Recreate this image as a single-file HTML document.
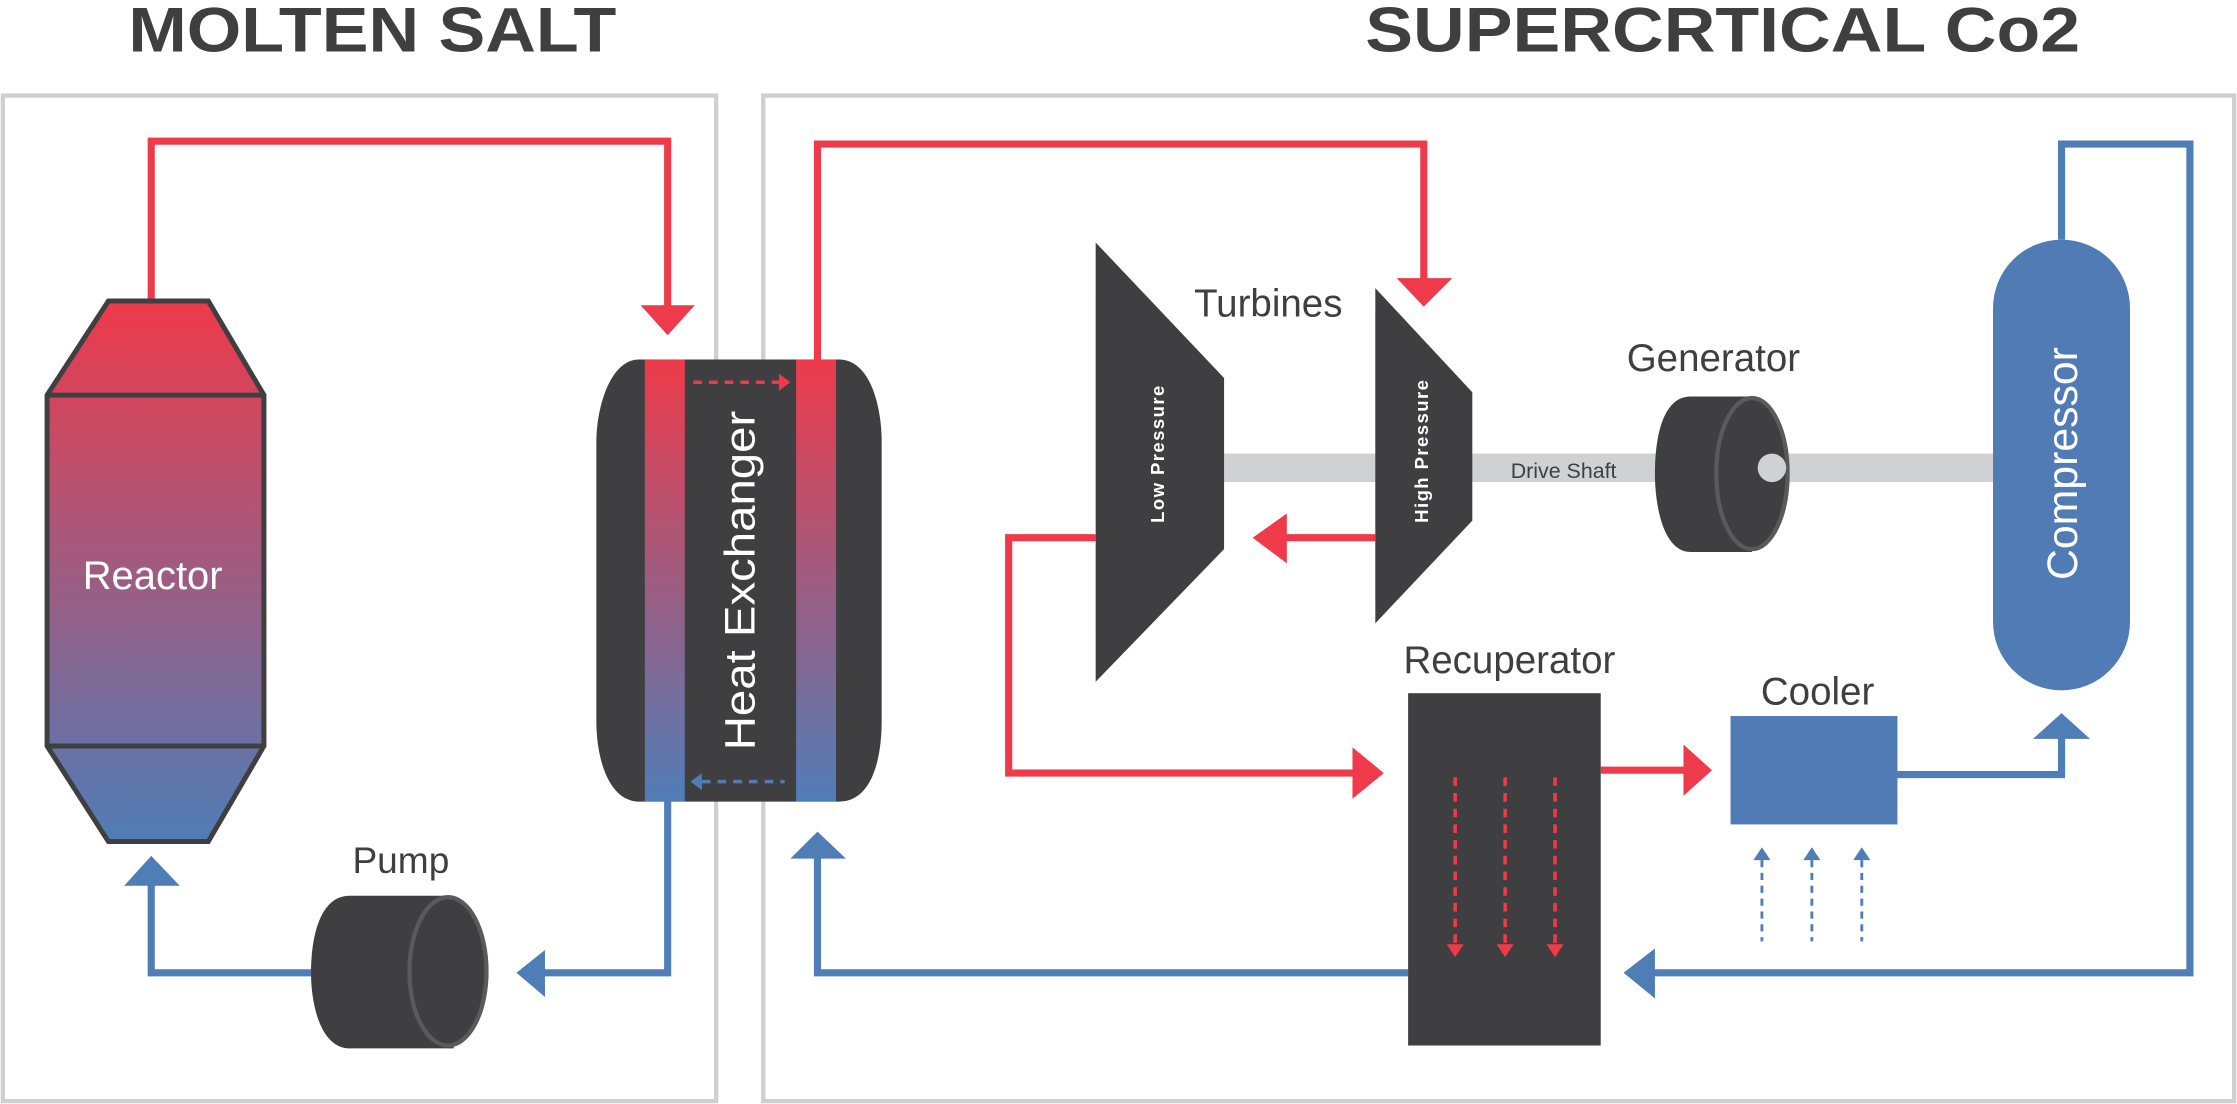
<!DOCTYPE html>
<html><head><meta charset="utf-8"><style>
html,body{margin:0;padding:0;background:#fff;}
svg{display:block;}
text{font-family:"Liberation Sans",sans-serif;}
</style></head><body>
<svg width="2237" height="1104" viewBox="0 0 1568 774" preserveAspectRatio="none">
<defs>
<linearGradient id="rg" x1="0" y1="0" x2="0" y2="1">
<stop offset="0" stop-color="#ee3a4a"/><stop offset="1" stop-color="#4f7db6"/></linearGradient>
<linearGradient id="hg" x1="0" y1="0" x2="0" y2="1">
<stop offset="0" stop-color="#ee3a4a"/><stop offset="1" stop-color="#4f7db6"/></linearGradient>
</defs>
<g>
<text x="90" y="36" font-size="44" font-weight="bold" fill="#3f3f41" textLength="342" lengthAdjust="spacingAndGlyphs">MOLTEN SALT</text>
<text x="957" y="36" font-size="44" font-weight="bold" fill="#3f3f41" textLength="501" lengthAdjust="spacingAndGlyphs">SUPERCRTICAL Co2</text>
</g>
<rect x="2" y="67" width="500" height="705" fill="none" stroke="#cfcfcf" stroke-width="3"/>
<rect x="535" y="67" width="1031" height="705" fill="none" stroke="#cfcfcf" stroke-width="3"/>

<g fill="none" stroke-width="5" stroke-linejoin="miter">
<polyline points="106,211 106,99 468,99 468,215" stroke="#ee3a4a"/>
<polyline points="468,562 468,682 380,682" stroke="#4f7db6"/>
<polyline points="218,682 106,682 106,618" stroke="#4f7db6"/>
<polyline points="573,252 573,101 998,101 998,197" stroke="#ee3a4a"/>
<polyline points="964,377 900,377" stroke="#ee3a4a"/>
<polyline points="768,377 707,377 707,542 950,542" stroke="#ee3a4a"/>
<polyline points="1122,540 1182,540" stroke="#ee3a4a"/>
<polyline points="1330,543 1445,543 1445,516" stroke="#4f7db6"/>
<polyline points="1445,168 1445,101 1535,101 1535,682 1158,682" stroke="#4f7db6"/>
<polyline points="987,682 573,682 573,600" stroke="#4f7db6"/>
</g>
<g>
<polygon points="449,214 487,214 468,235" fill="#ee3a4a"/>
<polygon points="382,666 382,699 362,682" fill="#4f7db6"/>
<polygon points="87,621 126,621 106,600" fill="#4f7db6"/>
<polygon points="979,195 1018,195 998,215" fill="#ee3a4a"/>
<polygon points="902,360 902,395 878,377" fill="#ee3a4a"/>
<polygon points="948,524 948,560 970,542" fill="#ee3a4a"/>
<polygon points="1180,522 1180,558 1200,540" fill="#ee3a4a"/>
<polygon points="1425,518 1465,518 1445,500" fill="#4f7db6"/>
<polygon points="1160,665 1160,700 1138,682" fill="#4f7db6"/>
<polygon points="554,602 593,602 573,583" fill="#4f7db6"/>
</g>

<g>
<polygon points="76,211 146,211 185,277 185,523 146,590 76,590 33,523 33,277" fill="url(#rg)" stroke="#3f3f41" stroke-width="3.5"/>
<line x1="33" y1="277" x2="185" y2="277" stroke="#3f3f41" stroke-width="3.5"/>
<line x1="33" y1="523" x2="185" y2="523" stroke="#3f3f41" stroke-width="3.5"/>
<text x="107" y="413" font-size="28" fill="#fff" text-anchor="middle">Reactor</text>
</g>

<g>
<path d="M448,252 L588,252 C610,252 618,285 618,310 L618,505 C618,535 610,562 588,562 L448,562 C428,562 418,535 418,505 L418,310 C418,285 428,252 448,252 Z" fill="#3f3f41"/>
<rect x="452" y="252" width="28" height="310" fill="url(#hg)"/>
<rect x="558" y="252" width="28" height="310" fill="url(#hg)"/>
<line x1="486" y1="268" x2="546" y2="268" stroke="#ee3a4a" stroke-width="2.5" stroke-dasharray="6,5"/>
<polygon points="546,262 546,274 554,268" fill="#ee3a4a"/>
<line x1="492" y1="548" x2="550" y2="548" stroke="#4f7db6" stroke-width="2.5" stroke-dasharray="6,5"/>
<polygon points="492,542 492,554 484,548" fill="#4f7db6"/>
<text x="0" y="0" transform="translate(529,407) rotate(-90)" font-size="30" fill="#fff" text-anchor="middle" textLength="238" lengthAdjust="spacingAndGlyphs">Heat Exchanger</text>
</g>

<g>
<path d="M245,628 L318,628 L318,735 L245,735 C225,735 218,705 218,682 C218,655 225,628 245,628 Z" fill="#3f3f41"/>
<ellipse cx="314" cy="681" rx="27" ry="52" fill="#3f3f41" stroke="#5a5a5c" stroke-width="3"/>
<text x="281" y="612" font-size="26" fill="#3f3f41" text-anchor="middle">Pump</text>
</g>

<rect x="858" y="318" width="540" height="20" fill="#d0d1d3"/>
<text x="1096" y="335" font-size="15" fill="#3f3f41" text-anchor="middle">Drive Shaft</text>

<g>
<polygon points="768,170 858,265 858,385 768,478" fill="#3f3f41"/>
<text transform="translate(816,318) rotate(-90)" font-size="13" font-weight="bold" fill="#fff" text-anchor="middle" letter-spacing="1">Low Pressure</text>
</g>
<g>
<polygon points="964,202 1032,275 1032,365 964,437" fill="#3f3f41"/>
<text transform="translate(1001,316) rotate(-90)" font-size="13" font-weight="bold" fill="#fff" text-anchor="middle" letter-spacing="1">High  Pressure</text>
</g>
<text x="889" y="222" font-size="27" fill="#3f3f41" text-anchor="middle">Turbines</text>

<g>
<path d="M1185,278 L1228,278 L1228,387 L1185,387 C1166,387 1160,355 1160,332 C1160,305 1166,278 1185,278 Z" fill="#3f3f41"/>
<ellipse cx="1228" cy="332" rx="25" ry="53" fill="#3f3f41" stroke="#5a5a5c" stroke-width="3"/>
<rect x="1232" y="318" width="20" height="20" rx="10" fill="#d0d1d3"/>
<text x="1201" y="260" font-size="27" fill="#3f3f41" text-anchor="middle">Generator</text>
</g>

<g>
<rect x="1397" y="168" width="96" height="316" rx="48" fill="#517bb5"/>
<text transform="translate(1456,325) rotate(-90)" font-size="30" fill="#fff" text-anchor="middle">Compressor</text>
</g>

<g>
<rect x="987" y="486" width="135" height="247" fill="#3f3f41"/>
<g stroke="#ee3a4a" stroke-width="2.5" stroke-dasharray="6,5">
<line x1="1020" y1="545" x2="1020" y2="662"/><line x1="1055" y1="545" x2="1055" y2="662"/><line x1="1090" y1="545" x2="1090" y2="662"/>
</g>
<g fill="#ee3a4a"><polygon points="1014,662 1026,662 1020,671"/><polygon points="1049,662 1061,662 1055,671"/><polygon points="1084,662 1096,662 1090,671"/></g>
<text x="1058" y="472" font-size="27" fill="#3f3f41" text-anchor="middle">Recuperator</text>
</g>

<g>
<rect x="1213" y="502" width="117" height="76" fill="#517bb5"/>
<text x="1274" y="494" font-size="27" fill="#3f3f41" text-anchor="middle">Cooler</text>
<g stroke="#4f7db6" stroke-width="2" stroke-dasharray="5,4">
<line x1="1235" y1="603" x2="1235" y2="660"/><line x1="1270" y1="603" x2="1270" y2="660"/><line x1="1305" y1="603" x2="1305" y2="660"/>
</g>
<g fill="#4f7db6"><polygon points="1229,603 1241,603 1235,594"/><polygon points="1264,603 1276,603 1270,594"/><polygon points="1299,603 1311,603 1305,594"/></g>
</g>
</svg>
</body></html>
